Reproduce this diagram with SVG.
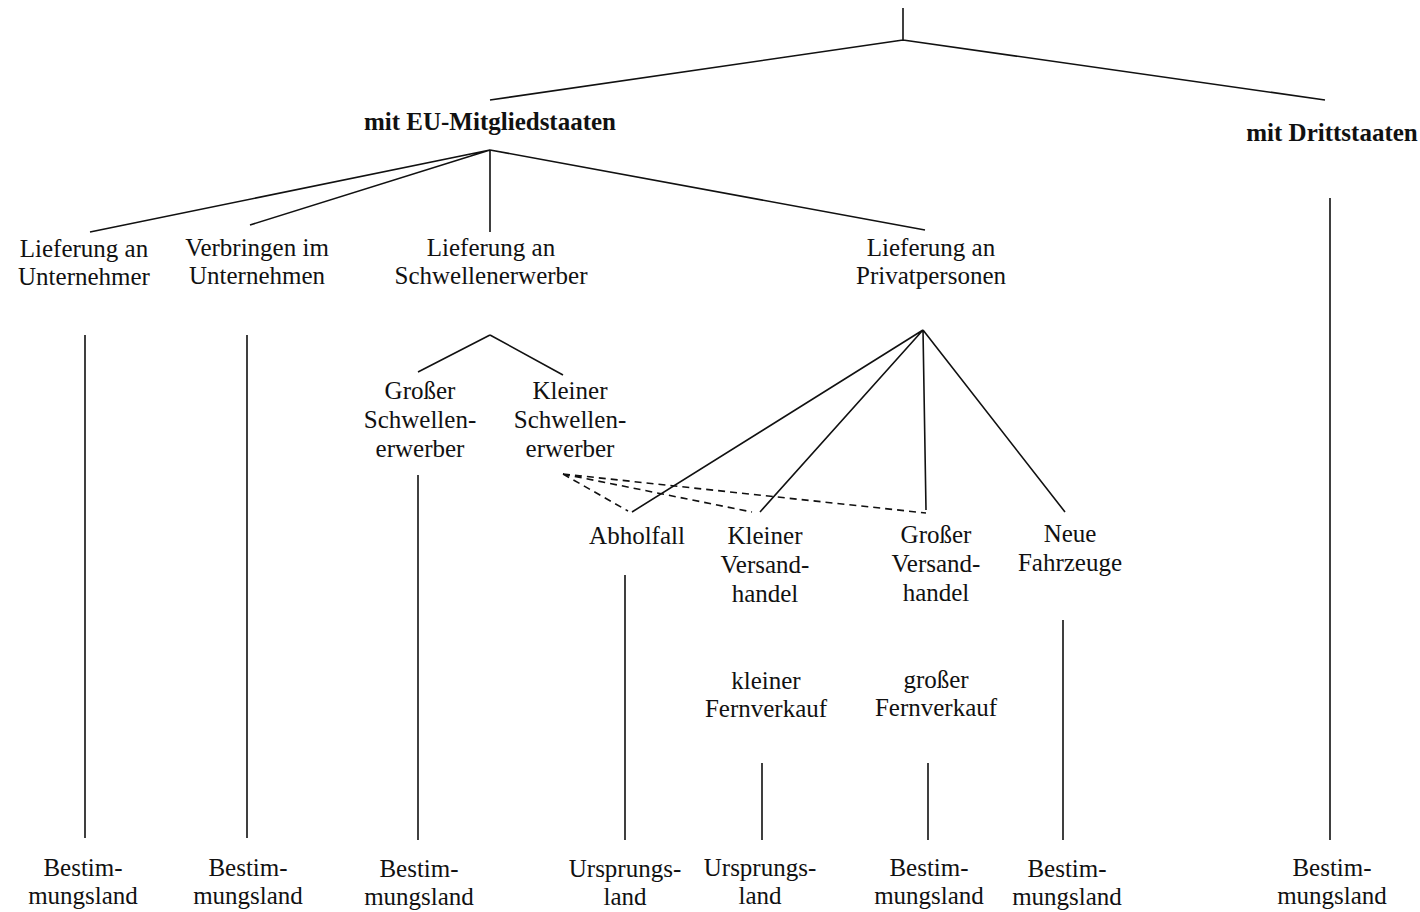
<svg xmlns="http://www.w3.org/2000/svg" width="1420" height="912" viewBox="0 0 1420 912">
<style>
text{font-family:"Liberation Serif","Times New Roman",serif;font-size:25px;fill:#111;text-anchor:middle}
.b{font-weight:bold}
.l{stroke:#111;stroke-width:1.6;fill:none}
.d{stroke:#111;stroke-width:1.6;fill:none;stroke-dasharray:7,5}
</style>
<rect width="1420" height="912" fill="#fff"/>
<g id="connectors">
<path class="l" d="M903,8V40M903,40L490,100M903,40L1325,100"/>
<path class="l" d="M490,150L90,232M490,150L250,225M490,150V232M490,150L925,230"/>
<path class="l" d="M85,335V838M247,335V838"/>
<path class="l" d="M490,335L418,372M490,335L563,375"/>
<path class="l" d="M418,475V840"/>
<path class="l" d="M923,330L632,512M923,330L760,512M923,330L926,510M923,330L1065,512"/>
<path class="d" d="M563,474L628,511M563,474L752,512M563,474L926,513"/>
<path class="l" d="M625,575V840M762,763V840M928,763V840M1063,620V840M1330,198V840"/>
</g>
<g id="eu"><text class="b" x="490" y="130">mit EU-Mitgliedstaaten</text></g>
<g id="dritt"><text class="b" x="1332" y="141">mit Drittstaaten</text></g>
<g id="lu"><text x="84" y="257">Lieferung an</text><text x="84" y="285">Unternehmer</text></g>
<g id="vu"><text x="257" y="256">Verbringen im</text><text x="257" y="284">Unternehmen</text></g>
<g id="ls"><text x="491" y="256">Lieferung an</text><text x="491" y="284">Schwellenerwerber</text></g>
<g id="lp"><text x="931" y="256">Lieferung an</text><text x="931" y="284">Privatpersonen</text></g>
<g id="gs"><text x="420" y="399">Großer</text><text x="420" y="428">Schwellen-</text><text x="420" y="457">erwerber</text></g>
<g id="ks"><text x="570" y="399">Kleiner</text><text x="570" y="428">Schwellen-</text><text x="570" y="457">erwerber</text></g>
<g id="ab"><text x="637" y="544">Abholfall</text></g>
<g id="kv"><text x="765" y="544">Kleiner</text><text x="765" y="573">Versand-</text><text x="765" y="602">handel</text></g>
<g id="gv"><text x="936" y="543">Großer</text><text x="936" y="572">Versand-</text><text x="936" y="601">handel</text></g>
<g id="nf"><text x="1070" y="542">Neue</text><text x="1070" y="571">Fahrzeuge</text></g>
<g id="kf"><text x="766" y="689">kleiner</text><text x="766" y="717">Fernverkauf</text></g>
<g id="gf"><text x="936" y="688">großer</text><text x="936" y="716">Fernverkauf</text></g>
<g id="b1"><text x="83" y="876">Bestim-</text><text x="83" y="904">mungsland</text></g>
<g id="b2"><text x="248" y="876">Bestim-</text><text x="248" y="904">mungsland</text></g>
<g id="b3"><text x="419" y="877">Bestim-</text><text x="419" y="905">mungsland</text></g>
<g id="u1"><text x="625" y="877">Ursprungs-</text><text x="625" y="905">land</text></g>
<g id="u2"><text x="760" y="876">Ursprungs-</text><text x="760" y="904">land</text></g>
<g id="b4"><text x="929" y="876">Bestim-</text><text x="929" y="904">mungsland</text></g>
<g id="b5"><text x="1067" y="877">Bestim-</text><text x="1067" y="905">mungsland</text></g>
<g id="b6"><text x="1332" y="876">Bestim-</text><text x="1332" y="904">mungsland</text></g>
</svg>
